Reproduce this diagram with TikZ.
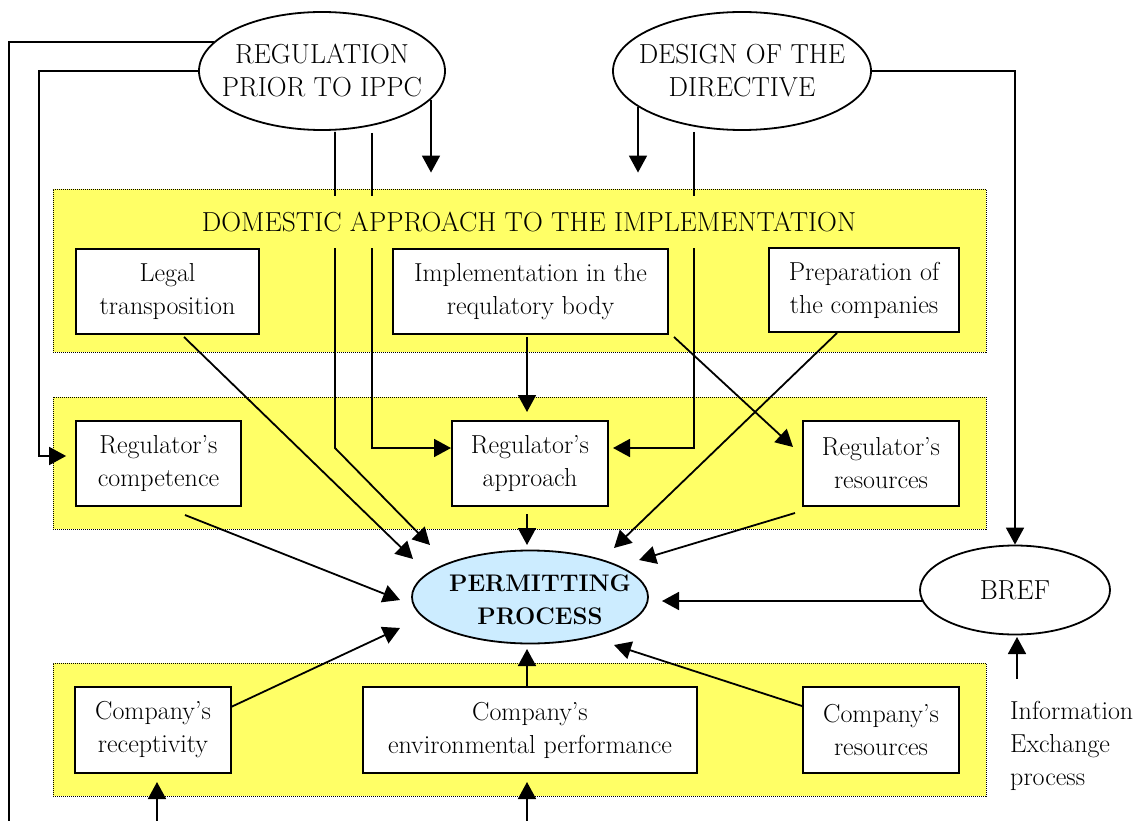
\documentclass[tikz,border=0pt]{standalone}
\usepackage{fontspec}
\usetikzlibrary{shapes.geometric,arrows.meta}
\definecolor{bandyellow}{RGB}{255,255,102}
\definecolor{permblue}{RGB}{204,236,255}
\pgfdeclarelayer{bg}\pgfdeclarelayer{fg}\pgfsetlayers{bg,main,fg}
\begin{document}
\begin{tikzpicture}[x=1pt,y=-1pt,
  every node/.style={font=\fontsize{26}{33}\selectfont},
  capsfont/.style={font=\fontsize{27.5}{33}\selectfont},
  bandbox/.style={draw=black, fill=bandyellow, dash pattern=on 1pt off 1pt, line width=0.9pt, inner sep=0pt},
  box/.style={draw=black, fill=white, line width=1.8pt, align=center, inner sep=0pt},
  oval/.style={ellipse, draw=black, fill=white, line width=1.8pt, inner sep=0pt},
  ovaltext/.style={label={[capsfont, align=center]center:#1}},
  conn/.style={line width=1.8pt},
  arr/.style={conn, -{Triangle[length=17pt,width=18pt]}},
]
\useasboundingbox (0,0) rectangle (1145,821);

\begin{pgfonlayer}{bg}
  \node[bandbox, minimum width=933pt, minimum height=163pt] (band1) at (519.5,270.5) {};
  \node[bandbox, minimum width=933pt, minimum height=132pt] (band2) at (519.5,463) {};
  \node[bandbox, minimum width=933pt, minimum height=133pt] (band3) at (519.5,729.5) {};
\end{pgfonlayer}

\begin{pgfonlayer}{fg}
  \node[capsfont, fill=bandyellow, inner xsep=8pt, inner ysep=0pt, minimum height=51pt] (title) at (529,222) {DOMESTIC APPROACH TO THE IMPLEMENTATION};

  \node[box, minimum width=183pt, minimum height=85pt] (legal) at (167.5,291.5) {Legal\\transposition};
  \node[box, minimum width=275pt, minimum height=85pt] (impl) at (530.5,291.5) {Implementation in the\\requlatory body};
  \node[box, minimum width=190pt, minimum height=84pt] (prep) at (864,290) {Preparation of\\the companies};

  \node[box, minimum width=165pt, minimum height=85pt] (rcomp) at (158.5,463.5) {Regulator’s\\competence};
  \node[box, minimum width=156pt, minimum height=85pt] (rappr) at (530,463.5) {Regulator’s\\approach};
  \node[box, minimum width=156pt, minimum height=85pt] (rres) at (881,463.5) {Regulator’s\\resources};

  \node[box, minimum width=156pt, minimum height=86pt] (crec) at (153,730) {Company’s\\receptivity};
  \node[box, minimum width=334pt, minimum height=86pt] (cenv) at (530,730) {Company’s\\environmental performance};
  \node[box, minimum width=156pt, minimum height=86pt] (cres) at (881,730) {Company’s\\resources};

  \node[oval, minimum width=246pt, minimum height=118pt, ovaltext={REGULATION\\PRIOR TO IPPC}] (reg) at (322,71) {};
  \node[oval, minimum width=258pt, minimum height=118pt, ovaltext={DESIGN OF THE\\DIRECTIVE}] (des) at (742,71) {};
  \node[oval, fill=permblue, minimum width=236pt, minimum height=93pt,
        label={[font=\fontsize{24}{33}\selectfont\bfseries, align=center, xshift=10pt, yshift=-3pt]center:PERMITTING\\PROCESS}] (perm) at (530,597) {};
  \node[oval, minimum width=190pt, minimum height=89pt, ovaltext={BREF}] (bref) at (1015,590) {};

  \node[anchor=west, inner sep=0pt, align=left] (info) at (1010,746) {Information\\Exchange\\process};
\end{pgfonlayer}

\coordinate (farL) at (9,821);
\coordinate (botA) at (157,821);
\coordinate (botB) at (527,821);

% from REGULATION PRIOR TO IPPC
\draw[conn] (reg.165) -| (farL);
\draw[arr] (reg.west) -| ([shift={(-36,-7.5)}]rcomp.west) -- ([shift={(-9,-7.5)}]rcomp.west);
\draw[arr] ([shift={(13,61)}]reg.center) -- ([shift={(13,377)}]reg.center) -- ([shift={(-100,-52)}]perm.center);
\draw[arr] ([shift={(50,62)}]reg.center) |- ([shift={(-79,-15.5)}]rappr.center);
\draw[arr] ([shift={(109,29)}]reg.center) -- ([shift={(-88.5,-16)}]band1.north);

% from DESIGN OF THE DIRECTIVE
\draw[arr] ([shift={(-104,36)}]des.center) -- ([shift={(118.5,-16)}]band1.north);
\draw[arr] ([shift={(-48,61)}]des.center) |- ([shift={(83,-15.5)}]rappr.center);
\draw[arr] (des.east) -| (bref.north);

% BREF and information exchange
\draw[arr] ([shift={(-92,11)}]bref.center) -- ([shift={(132,4)}]perm.center);
\draw[arr] ([shift={(7,-67)}]info.west) -- ([shift={(2,47)}]bref.center);

% domestic approach
\draw[arr] ([shift={(16.5,45.5)}]legal.center) -- ([shift={(-117,-38)}]perm.center);
\draw[arr] ([shift={(-3.5,45.5)}]impl.center) -- ([shift={(-3,-51.5)}]rappr.center);
\draw[arr] ([shift={(143.5,45.5)}]impl.center) -- ([shift={(-88,-16.5)}]rres.center);
\draw[arr] ([shift={(-27,43)}]prep.center) -- ([shift={(84,-49)}]perm.center);

% regulator
\draw[arr] ([shift={(26.5,51.5)}]rcomp.center) -- ([shift={(-130,3)}]perm.center);
\draw[arr] ([shift={(-3,50.5)}]rappr.center) -- ([shift={(-3,-52)}]perm.center);
\draw[arr] ([shift={(-86,49.5)}]rres.center) -- ([shift={(109,-37)}]perm.center);

% companies
\draw[arr] ([shift={(78,-23)}]crec.center) -- ([shift={(-130,31)}]perm.center);
\draw[arr] ([shift={(-3,-43)}]cenv.center) -- ([shift={(-3,52)}]perm.center);
\draw[arr] ([shift={(-79,-24)}]cres.center) -- ([shift={(84,48)}]perm.center);

\draw[arr] (botA) -- ([shift={(4,52)}]crec.center);
\draw[arr] (botB) -- ([shift={(-3,52)}]cenv.center);
\end{tikzpicture}
\end{document}
